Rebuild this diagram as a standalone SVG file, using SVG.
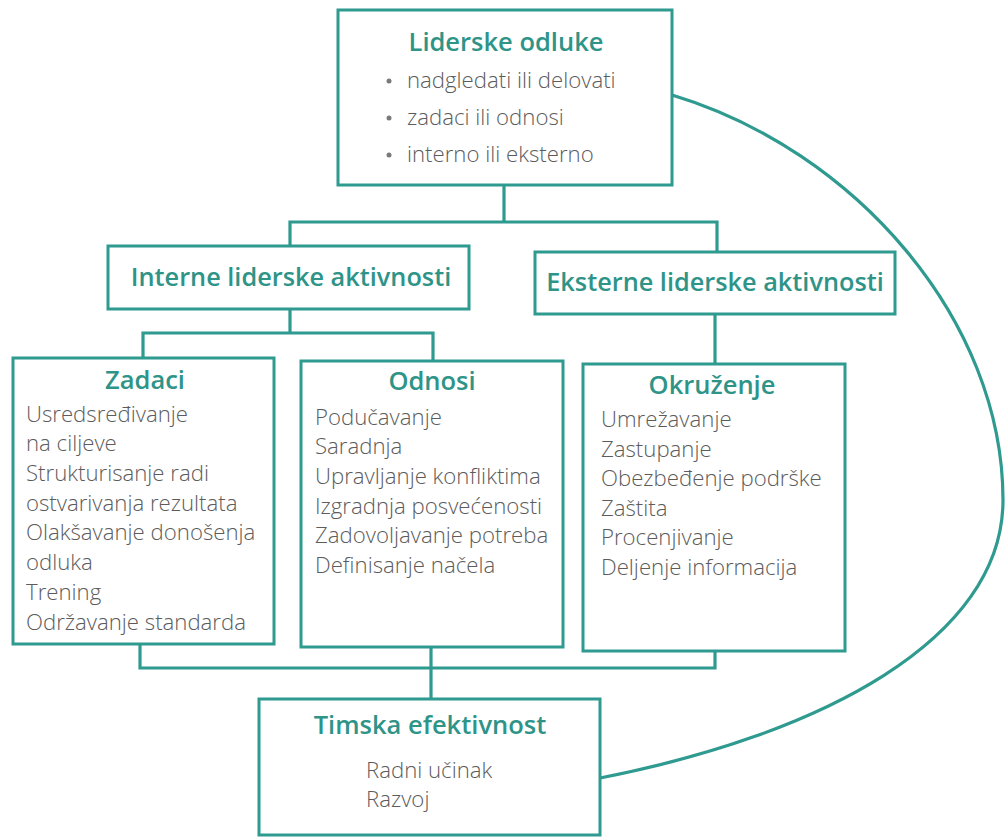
<svg xmlns="http://www.w3.org/2000/svg" width="1005" height="839" viewBox="0 0 1005 839">
<style>
.box{fill:#fff;stroke:#2f9a8f;stroke-width:3}
.ln{fill:none;stroke:#2f9a8f;stroke-width:3.2}
.t{font-family:"Open Sans","Noto Sans",sans-serif;font-weight:600;fill:#2e9488}
.h1{font-size:25.5px}
.h2{font-size:25.3px}
.it{font-family:"Open Sans","Noto Sans",sans-serif;font-weight:300;font-size:22.2px;fill:#5c5c5c}
</style>
<rect width="1005" height="839" fill="#fff"/>
<g id="connectors">
<path class="ln" d="M504,185 V222 M290,246 V222 H717 V252"/>
<path class="ln" d="M290,309 V333 M143,358 V333 H433 V361"/>
<path class="ln" d="M715,314 V364"/>
<path class="ln" d="M140,644 V668 H715 V651 M431,647 V699"/>
<path class="ln" d="M672,95 C855,150 1003,320 1003,500 C1003,640 820,735 600,778"/>
</g>
<g id="liderske-odluke">
<rect class="box" x="338" y="10" width="334" height="175"/>
<text class="t h1" x="506" y="51" text-anchor="middle">Liderske odluke</text>
<circle cx="389" cy="81" r="2.5" fill="#7a7a7a"/>
<circle cx="389" cy="118" r="2.5" fill="#7a7a7a"/>
<circle cx="389" cy="155" r="2.5" fill="#7a7a7a"/>
<text class="it" x="407" y="88">nadgledati ili delovati</text>
<text class="it" x="407" y="125">zadaci ili odnosi</text>
<text class="it" x="407" y="162">interno ili eksterno</text>
</g>
<g id="interne">
<rect class="box" x="108" y="246" width="361" height="63"/>
<text class="t h2" x="291" y="286" text-anchor="middle">Interne liderske aktivnosti</text>
</g>
<g id="eksterne">
<rect class="box" x="535" y="252" width="360" height="62"/>
<text class="t h2" x="715" y="291" text-anchor="middle">Eksterne liderske aktivnosti</text>
</g>
<g id="zadaci">
<rect class="box" x="13" y="358" width="261" height="286"/>
<text class="t h1" x="145" y="389" text-anchor="middle">Zadaci</text>
<text class="it" x="26" y="422">Usredsređivanje</text>
<text class="it" x="26" y="451">na ciljeve</text>
<text class="it" x="26" y="481">Strukturisanje radi</text>
<text class="it" x="26" y="511">ostvarivanja rezultata</text>
<text class="it" x="26" y="540">Olakšavanje donošenja</text>
<text class="it" x="26" y="570">odluka</text>
<text class="it" x="26" y="600">Trening</text>
<text class="it" x="26" y="630">Održavanje standarda</text>
</g>
<g id="odnosi">
<rect class="box" x="301" y="361" width="262" height="286"/>
<text class="t h1" x="432" y="390" text-anchor="middle">Odnosi</text>
<text class="it" x="315" y="425">Podučavanje</text>
<text class="it" x="315" y="454">Saradnja</text>
<text class="it" x="315" y="484">Upravljanje konfliktima</text>
<text class="it" x="315" y="514">Izgradnja posvećenosti</text>
<text class="it" x="315" y="543">Zadovoljavanje potreba</text>
<text class="it" x="315" y="573">Definisanje načela</text>
</g>
<g id="okruzenje">
<rect class="box" x="583" y="364" width="262" height="287"/>
<text class="t h1" x="712" y="394" text-anchor="middle">Okruženje</text>
<text class="it" x="601" y="427">Umrežavanje</text>
<text class="it" x="601" y="457">Zastupanje</text>
<text class="it" x="601" y="486">Obezbeđenje podrške</text>
<text class="it" x="601" y="516">Zaštita</text>
<text class="it" x="601" y="545">Procenjivanje</text>
<text class="it" x="601" y="575">Deljenje informacija</text>
</g>
<g id="timska">
<rect class="box" x="259" y="699" width="341" height="136"/>
<text class="t h1" x="430" y="734" text-anchor="middle">Timska efektivnost</text>
<text class="it" x="366" y="778">Radni učinak</text>
<text class="it" x="366" y="807">Razvoj</text>
</g>
</svg>
